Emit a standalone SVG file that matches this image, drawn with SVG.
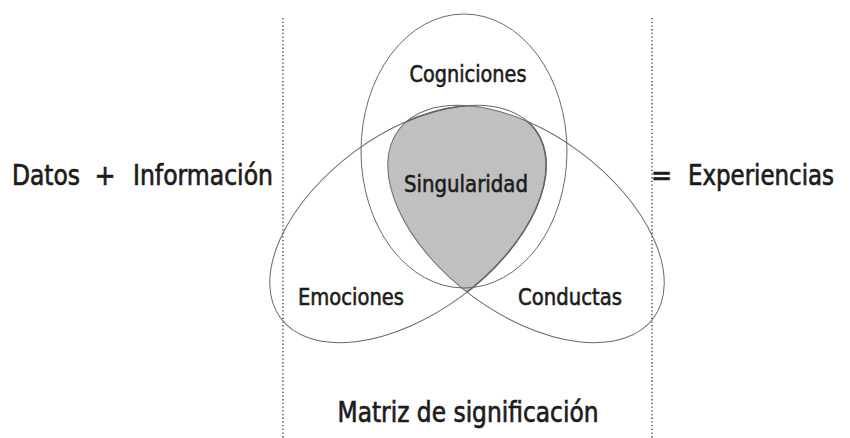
<svg xmlns="http://www.w3.org/2000/svg" width="850" height="438" viewBox="0 0 850 438">
<style>
.t{font-family:"DejaVu Sans Condensed","DejaVu Sans","Liberation Sans",sans-serif;font-stretch:condensed;fill:#1c1c1c;stroke:#1c1c1c;stroke-width:0.55;text-anchor:middle}
.st{text-anchor:start}
.s{font-size:23px}
.b{font-size:28px;stroke-width:0.65}
.e{fill:none;stroke:#6a6a6a;stroke-width:1}
.d{stroke:#333;stroke-width:1.3;stroke-dasharray:1.3 2.4;fill:none}
</style>
<defs>
<clipPath id="cc"><ellipse cx="526" cy="224" rx="158.4" ry="90" transform="rotate(36.4 526 224)"/></clipPath>
</defs>
<rect width="850" height="438" fill="#fff"/>
<g id="dividers">
<line class="d" x1="283" y1="18" x2="283" y2="438"/>
<line class="d" x1="652" y1="18" x2="652" y2="438"/>
</g>
<g id="singularidad-area" clip-path="url(#cc)">
<ellipse cx="408" cy="224" rx="158.4" ry="90" transform="rotate(-36.4 408 224)" fill="#c0c0c0" stroke="#555" stroke-width="1.5"/>
</g>
<g id="connectors"></g>
<g id="cogniciones">
<ellipse class="e" cx="464" cy="151" rx="103" ry="137"/>
<text class="t s" x="468" y="82" textLength="117" lengthAdjust="spacingAndGlyphs">Cogniciones</text>
</g>
<g id="emociones">
<ellipse class="e" cx="408" cy="224" rx="158.4" ry="90" transform="rotate(-36.4 408 224)"/>
<text class="t s" x="351" y="305" textLength="106" lengthAdjust="spacingAndGlyphs">Emociones</text>
</g>
<g id="conductas">
<ellipse class="e" cx="526" cy="224" rx="158.4" ry="90" transform="rotate(36.4 526 224)"/>
<text class="t s" x="570" y="305" textLength="104" lengthAdjust="spacingAndGlyphs">Conductas</text>
</g>
<g id="singularidad">
<text class="t s" x="466" y="192" textLength="124" lengthAdjust="spacingAndGlyphs">Singularidad</text>
</g>
<g id="entrada">
<text class="t b st" x="12" y="185" textLength="68" lengthAdjust="spacingAndGlyphs">Datos</text>
<text class="t b" x="105" y="185">+</text>
<text class="t b st" x="133" y="185" textLength="140" lengthAdjust="spacingAndGlyphs">Información</text>
</g>
<g id="salida">
<text class="t b" x="661.5" y="185">=</text>
<text class="t b st" x="688" y="185" textLength="146" lengthAdjust="spacingAndGlyphs">Experiencias</text>
</g>
<g id="matriz">
<text class="t b" x="468" y="422" textLength="261" lengthAdjust="spacingAndGlyphs">Matriz de significación</text>
</g>
</svg>
